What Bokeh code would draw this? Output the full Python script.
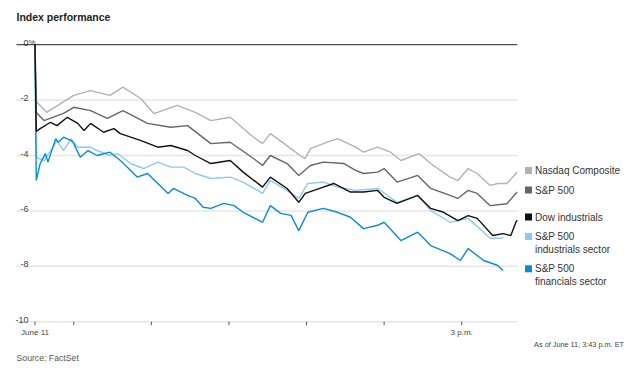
from bokeh.plotting import figure
from bokeh.models import Range1d
from bokeh.core.properties import value
from bokeh.embed import file_html
from bokeh.resources import INLINE

# ---------------- data (minutes after 9:30 a.m., % change) ----------------
nasdaq_t = [0, 1, 9, 30, 43, 58, 68, 82, 92, 110, 124, 136, 151, 169, 176, 182, 198,
            205, 209, 213, 226, 234, 248, 254, 265, 275, 283, 297, 306, 321, 327, 335,
            342, 352, 358, 365, 372, 373]
nasdaq = [0, -2.05, -2.44, -1.83, -1.66, -1.83, -1.53, -1.95, -2.49, -2.19, -2.44,
          -2.74, -2.62, -3.34, -3.57, -3.21, -3.75, -4.00, -4.11, -3.75, -3.52, -3.39,
          -3.70, -3.88, -3.70, -3.88, -4.18, -3.93, -4.29, -4.78, -4.90, -4.47, -4.65,
          -5.08, -5.01, -5.01, -4.65, -4.60]

sp500_t = [0, 1, 7, 22, 30, 43, 56, 68, 87, 105, 118, 136, 151, 169, 176, 182, 195,
           204, 213, 223, 239, 248, 254, 265, 270, 280, 296, 306, 321, 327, 335, 342,
           352, 365, 372, 373]
sp500 = [0, -2.45, -2.74, -2.48, -2.26, -2.38, -2.66, -2.38, -2.84, -2.98, -2.92,
         -3.57, -3.52, -4.11, -4.36, -4.00, -4.29, -4.72, -4.36, -4.24, -4.29, -4.54,
         -4.65, -4.60, -4.47, -4.96, -4.72, -5.19, -5.44, -5.55, -5.26, -5.37, -5.81,
         -5.74, -5.36, -5.32]

dow_t = [0, 1, 4, 12, 17, 25, 33, 38, 43, 53, 61, 66, 82, 95, 105, 118, 124, 136,
         151, 161, 176, 182, 195, 204, 209, 223, 231, 244, 254, 265, 270, 280, 296,
         306, 316, 327, 335, 342, 354, 362, 368, 372, 373]
dow = [0, -3.13, -3.03, -2.80, -2.92, -2.62, -2.84, -3.10, -2.84, -3.16, -3.03, -3.21,
       -3.46, -3.70, -3.64, -3.82, -4.00, -4.29, -4.18, -4.60, -5.14, -4.78, -5.19,
       -5.69, -5.37, -5.14, -5.01, -5.32, -5.32, -5.26, -5.51, -5.73, -5.44, -5.91,
       -6.05, -6.35, -6.17, -6.27, -6.89, -6.82, -6.89, -6.40, -6.33]

industrials_t = [0, 1, 7, 14, 17, 22, 28, 33, 43, 48, 58, 64, 74, 84, 95, 105, 115,
                 124, 136, 151, 161, 176, 182, 195, 204, 211, 223, 234, 248, 265, 280,
                 296, 306, 321, 335, 352, 360, 362]
industrials = [0, -4.07, -4.18, -3.70, -3.46, -3.82, -3.39, -3.70, -3.70, -3.82, -4.00,
               -3.93, -4.29, -4.47, -4.24, -4.42, -4.42, -4.65, -4.83, -4.78, -4.96,
               -5.37, -4.90, -5.26, -5.55, -5.01, -4.96, -5.14, -5.26, -5.19, -5.69,
               -5.44, -5.98, -6.41, -6.27, -6.99, -6.99, -6.96]

financials_t = [0, 1, 4, 8, 10, 16, 18, 22, 28, 30, 35, 41, 48, 58, 66, 74, 79, 87,
                95, 103, 107, 118, 124, 130, 136, 146, 154, 161, 176, 182, 190, 198,
                204, 211, 223, 234, 244, 254, 265, 270, 283, 296, 306, 321, 329, 335,
                347, 358, 362]
financials = [0, -4.90, -4.29, -3.93, -4.24, -3.39, -3.52, -3.34, -3.46, -3.57, -4.06,
              -3.82, -4.00, -3.88, -4.18, -4.54, -4.78, -4.65, -5.01, -5.37, -5.19,
              -5.44, -5.55, -5.87, -5.91, -5.73, -5.81, -6.05, -6.41, -5.81, -6.09,
              -6.16, -6.71, -6.05, -5.91, -6.05, -6.23, -6.64, -6.52, -6.41, -7.07,
              -6.77, -7.25, -7.54, -7.79, -7.36, -7.79, -7.97, -8.15]

y_ticks = [0, -2, -4, -6, -8, -10]
y_tick_labels = ["0", "-2", "-4", "-6", "-8", "-10"]
x_ticks = [0, 30, 90, 150, 210, 270, 330]
x_tick_labels = {0: "June 11", 330: "3 p.m."}

legend_labels = ["Nasdaq Composite", "S&P 500", "Dow industrials",
                 "S&P 500\nindustrials sector", "S&P 500\nfinancials sector"]
legend_colors = ["#b2b2b2", "#666666", "#111111", "#8ecaf0", "#0a8bd6"]

# ---------------- layout (canvas pixels) ----------------
W, H = 640, 374
X0, XS = 34.5, 1.293      # canvas x of 9:30, px per minute
Y0, YS = 44.2, 27.7       # canvas y of 0 %, px per percentage point


def dx(cx):
    return (cx - X0) / XS


def dy(cy):
    return (Y0 - cy) / YS


p = figure(width=W, height=H, output_backend="svg", toolbar_location=None,
           x_range=Range1d(dx(0), dx(W)), y_range=Range1d(dy(H), dy(0)),
           x_axis_type=None, y_axis_type=None, min_border=0,
           outline_line_color=None, background_fill_color="white",
           border_fill_color="white")

FONT = value("Liberation Sans")

# grid lines
end_m = 373
grid_y = [v for v in y_ticks if v != 0]
p.segment(x0=[dx(16)] * len(grid_y), y0=grid_y, x1=[end_m] * len(grid_y), y1=grid_y,
          line_color="#e6e6e6", line_width=1.5)

# y labels
p.text(x=[dx(28)] * len(y_ticks), y=y_ticks, text=y_tick_labels,
       text_font=FONT, text_font_size="9px", text_color="#444444",
       text_align="right", text_baseline="alphabetic", y_offset=-2)
p.text(x=[dx(28)], y=[0], text=["%"], text_font=FONT, text_font_size="8px",
       text_color="#444444", text_align="left", text_baseline="alphabetic", y_offset=-2)

# x ticks and labels
p.segment(x0=x_ticks, y0=[-10] * len(x_ticks), x1=x_ticks,
          y1=[-10 - 3.5 / YS] * len(x_ticks), line_color="#555555", line_width=1)
p.text(x=list(x_tick_labels.keys()), y=[-10] * len(x_tick_labels),
       text=list(x_tick_labels.values()), text_font=FONT, text_font_size="8px",
       text_color="#444444", text_align="center", text_baseline="middle", y_offset=11)

# series lines
lw = 1.4
p.line(industrials_t, industrials, line_color=legend_colors[3], line_width=lw)
p.line(financials_t, financials, line_color=legend_colors[4], line_width=lw)
p.line(nasdaq_t, nasdaq, line_color=legend_colors[0], line_width=lw)
p.line(sp500_t, sp500, line_color=legend_colors[1], line_width=lw)
p.line(dow_t, dow, line_color=legend_colors[2], line_width=lw)

# zero line on top
p.segment(x0=[dx(16)], y0=[0], x1=[end_m], y1=[0], line_color="#222222", line_width=1)

# legend (placed near each line's end value)
legend_cy = [170, 189.5, 216.5, 236, 268.3]
p.scatter(x=[dx(528)] * len(legend_cy), y=[dy(c) for c in legend_cy], marker="square",
          size=7, fill_color=legend_colors, line_color=None)
lx, ly, lt = [], [], []
for lab, c in zip(legend_labels, legend_cy):
    for i, part in enumerate(lab.split("\n")):
        lx.append(dx(534.5))
        ly.append(dy(c + 13 * i))
        lt.append(part)
p.text(x=lx, y=ly, text=lt, text_font=FONT, text_font_size="10px",
       text_color="#333333", text_align="left", text_baseline="middle")

# title / notes
p.text(x=[dx(16)], y=[dy(16.7)], text=["Index performance"], text_font=FONT,
       text_font_size="10.5px", text_font_style="bold", text_color="#222222",
       text_align="left", text_baseline="middle")
p.text(x=[dx(623.5)], y=[dy(344.3)], text=["As of June 11, 3:43 p.m. ET"],
       text_font=FONT, text_font_size="7.3px", text_color="#444444",
       text_align="right", text_baseline="middle")
p.text(x=[dx(16)], y=[dy(357.3)], text=["Source: FactSet"], text_font=FONT,
       text_font_size="8.7px", text_color="#555555", text_align="left",
       text_baseline="middle")

open("out.html", "w").write(file_html(p, INLINE))
